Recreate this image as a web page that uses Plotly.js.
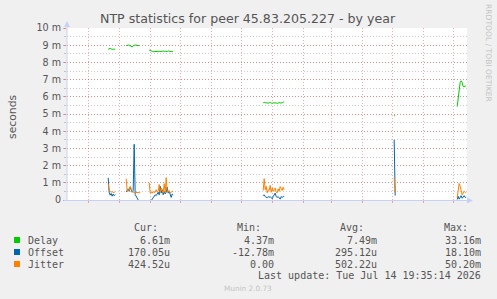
<!DOCTYPE html>
<html>
<head>
<meta charset="utf-8">
<script src="https://cdn.plot.ly/plotly-3.0.1.min.js"></script>
<style>html,body{margin:0;padding:0;background:#F0F0F0;}#chart{width:497px;height:299px;}</style>
</head>
<body>
<div id="chart"></div>
<script>
// ---- data (values in milliseconds; null = no data) ----
const dates = [
  "2025-07-21","2025-07-22","2025-07-23","2025-07-24","2025-07-25","2025-07-26","2025-07-27","2025-07-28",
  "2025-07-29",
  "2025-08-08","2025-08-09","2025-08-10","2025-08-11","2025-08-12","2025-08-13","2025-08-14","2025-08-15",
  "2025-08-16","2025-08-17","2025-08-18","2025-08-19","2025-08-20","2025-08-21","2025-08-22",
  "2025-08-23",
  "2025-08-31","2025-09-01","2025-09-02","2025-09-03","2025-09-04","2025-09-05","2025-09-06","2025-09-07",
  "2025-09-08","2025-09-09","2025-09-10","2025-09-11","2025-09-12","2025-09-13","2025-09-14","2025-09-15",
  "2025-09-16","2025-09-17","2025-09-18","2025-09-19","2025-09-20","2025-09-21","2025-09-22","2025-09-23",
  "2025-09-24",
  "2025-09-25",
  "2025-12-23","2025-12-24","2025-12-25","2025-12-26","2025-12-27","2025-12-28","2025-12-29","2025-12-30",
  "2025-12-31","2026-01-01","2026-01-02","2026-01-03","2026-01-04","2026-01-05","2026-01-06","2026-01-07",
  "2026-01-08","2026-01-09","2026-01-10","2026-01-11","2026-01-12","2026-01-13",
  "2026-01-14",
  "2026-05-03","2026-05-04",
  "2026-05-05",
  "2026-07-05","2026-07-06","2026-07-07","2026-07-08","2026-07-09","2026-07-10","2026-07-11","2026-07-12",
  "2026-07-13","2026-07-14"
];
const delay = [
  8.76,8.78,8.82,8.78,8.76,8.76,8.77,8.76,
  null,
  8.97,9.00,9.01,9.00,8.98,8.96,8.90,8.97,9.00,9.01,9.00,8.98,8.97,8.97,null,
  null,
  8.72,8.68,8.65,8.65,8.62,8.63,8.65,8.64,8.63,8.64,8.65,8.63,8.62,8.64,8.67,8.63,8.65,8.64,8.63,8.67,8.64,8.63,8.62,8.64,8.63,
  null,
  5.65,5.68,5.66,5.64,5.66,5.63,5.65,5.67,5.64,5.62,5.65,5.66,5.63,5.64,5.62,5.65,5.66,5.64,5.63,5.65,5.68,5.72,
  null,
  4.90,4.90,
  null,
  5.43,5.90,6.40,6.85,6.93,6.83,6.60,6.58,6.63,6.61
];
const offset = [
  1.29,0.45,0.28,0.38,0.22,0.35,0.25,0.32,
  null,
  0.46,0.55,0.65,0.50,0.75,0.60,0.45,0.55,3.24,0.32,0.20,0.05,-0.05,-0.10,null,
  null,
  -0.13,-0.10,-0.05,0.05,0.15,0.20,0.30,0.25,0.35,0.45,0.30,0.80,0.40,0.60,0.30,0.50,0.35,0.45,0.75,0.40,0.50,0.30,0.15,0.35,0.30,
  null,
  0.26,0.30,0.20,0.15,0.13,0.20,0.15,0.20,0.10,0.07,0.20,0.33,0.40,0.20,0.15,0.20,0.10,0.05,0.20,0.15,0.20,0.22,
  null,
  3.50,0.26,
  null,
  0.03,0.22,0.05,0.15,0.25,0.10,0.20,0.25,0.15,0.17
];
const jitter = [
  0.95,0.55,0.50,0.45,0.50,0.42,0.45,0.48,
  null,
  1.24,0.50,0.60,0.55,0.80,0.60,0.50,0.45,0.45,0.42,0.42,0.42,0.42,0.42,0.42,
  null,
  1.00,0.42,0.45,0.40,0.50,0.42,0.45,0.60,0.45,0.50,0.90,0.45,0.70,0.50,0.40,0.95,0.45,1.30,0.50,0.45,0.55,0.40,0.45,0.50,0.48,
  null,
  0.55,1.24,0.60,0.80,0.42,0.60,0.55,0.85,0.45,0.70,0.50,0.60,0.70,0.45,0.42,0.65,0.50,0.78,0.60,0.55,0.75,0.60,
  null,
  1.30,0.44,
  null,
  0.13,0.45,0.96,0.80,0.50,0.30,0.40,0.50,0.45,0.42
];

const seriesNames  = ["Delay","Offset","Jitter"];
const seriesColors = ["#00CC00","#0066B3","#FF8000"];
const curVals = ["6.61m","170.05u","424.52u"];
const minVals = ["4.37m","-12.78m","0.00"];
const avgVals = ["7.49m","295.12u","502.22u"];
const maxVals = ["33.16m","18.10m","50.20m"];
const legendHeads = ["Cur:","Min:","Avg:","Max:"];

const yTickVals  = [0,1,2,3,4,5,6,7,8,9,10];
const yTickText  = ["0","1 m","2 m","3 m","4 m","5 m","6 m","7 m","8 m","9 m","10 m"];
const monthStarts = ["2025-07-01","2025-08-01","2025-09-01","2025-10-01","2025-11-01","2025-12-01",
  "2026-01-01","2026-02-01","2026-03-01","2026-04-01","2026-05-01","2026-06-01","2026-07-01"];
const midMonths = ["2025-06-16","2025-07-16","2025-08-16","2025-09-16","2025-10-16","2025-11-16","2025-12-16",
  "2026-01-16","2026-02-15","2026-03-16","2026-04-16","2026-05-16","2026-06-16"];
const xLabelDates = ["2025-07-16","2025-10-16","2026-01-16","2026-04-16"];
const xLabelText  = ["July 2025","October 2025","January 2026","April 2026"];
const xRange = ["2025-06-09 19:35","2026-07-14 19:35"];

// ---- geometry helpers ----
const WID=497, HEI=299, ML=67, MR=30, MT=28, MB=99;
const PW = WID-ML-MR, PH = HEI-MT-MB;
const px = p => (p-ML)/PW;
const py = p => (HEI-MB-p)/PH;

const series = [delay, offset, jitter];
const traces = series.map((s,i)=>({
  type:"scatter", mode:"lines", x:dates, y:s, name:seriesNames[i],
  line:{color:seriesColors[i], width:1}, connectgaps:false, hoverinfo:"skip"
}));

const RED = "rgba(240,60,60,0.45)", GRAY = "rgba(128,128,128,0.40)", AXC = "#C8D0F6";
const DASH = "1px,2px";
const txt = "#555";

const annotations = [];
annotations.push({xref:"paper",yref:"paper",x:px(248),y:py(19),xanchor:"center",yanchor:"middle",
  text:"NTP statistics for peer 45.83.205.227 - by year",showarrow:false,
  font:{family:"DejaVu Sans",size:12.6,color:txt}});
annotations.push({xref:"paper",yref:"paper",x:px(12),y:py(116),xanchor:"center",yanchor:"middle",
  text:"seconds",textangle:-90,showarrow:false,font:{family:"DejaVu Sans",size:10.8,color:txt}});
annotations.push({xref:"paper",yref:"paper",x:px(489),y:py(53),xanchor:"center",yanchor:"middle",
  text:"RRDTOOL / TOBI OETIKER",textangle:90,showarrow:false,font:{family:"DejaVu Sans",size:7.6,color:"#C4C4C4"}});
annotations.push({xref:"paper",yref:"paper",x:px(248),y:py(288),xanchor:"center",yanchor:"middle",
  text:"Munin 2.0.73",showarrow:false,font:{family:"DejaVu Sans",size:7.3,color:"#C4C4C4"}});

const mono = {family:"DejaVu Sans Mono",size:10,color:txt};
const headRight = [160,263,366,470];
const valRight  = [172,276,379,483];
legendHeads.forEach((h,i)=>annotations.push({xref:"paper",yref:"paper",x:px(headRight[i]),y:py(227),
  xanchor:"right",yanchor:"middle",text:h,showarrow:false,font:mono}));
const rowsY = [240,252,264];
const shapes = [];
seriesNames.forEach((n,i)=>{
  annotations.push({xref:"paper",yref:"paper",x:px(26),y:py(rowsY[i]),xanchor:"left",yanchor:"middle",
    text:n,showarrow:false,font:mono});
  [curVals,minVals,avgVals,maxVals].forEach((arr,j)=>annotations.push({xref:"paper",yref:"paper",
    x:px(valRight[j]),y:py(rowsY[i]),xanchor:"right",yanchor:"middle",text:arr[i],showarrow:false,font:mono}));
  shapes.push({type:"rect",xref:"paper",yref:"paper",x0:px(14),x1:px(20),y0:py(rowsY[i]+3),y1:py(rowsY[i]-3),
    fillcolor:seriesColors[i],line:{width:0}});
});
annotations.push({xref:"paper",yref:"paper",x:px(483),y:py(275.5),xanchor:"right",yanchor:"middle",
  text:"Last update: Tue Jul 14 19:35:14 2026",showarrow:false,font:mono});

shapes.push({type:"line",xref:"paper",yref:"paper",x0:px(67),x1:px(67),y0:py(200.5),y1:py(24),line:{color:AXC,width:1}});
shapes.push({type:"path",xref:"paper",yref:"paper",
  path:`M ${px(64)} ${py(27)} L ${px(70)} ${py(27)} L ${px(67)} ${py(21)} Z`,fillcolor:AXC,line:{width:0}});
shapes.push({type:"line",xref:"paper",yref:"paper",x0:px(64),x1:px(470),y0:py(200.5),y1:py(200.5),line:{color:AXC,width:1}});
shapes.push({type:"path",xref:"paper",yref:"paper",
  path:`M ${px(467)} ${py(197.5)} L ${px(467)} ${py(203.5)} L ${px(473)} ${py(200.5)} Z`,fillcolor:AXC,line:{width:0}});

const layout = {
  width:WID,height:HEI,margin:{l:ML,r:MR,t:MT,b:MB},
  paper_bgcolor:"#F0F0F0",plot_bgcolor:"#FFFFFF",showlegend:false,
  xaxis:{type:"date",range:xRange,tickmode:"array",tickvals:monthStarts,showticklabels:false,
    showgrid:true,gridcolor:RED,griddash:DASH,gridwidth:1,ticks:"outside",ticklen:2,tickcolor:RED,
    zeroline:false,showline:false,fixedrange:true},
  xaxis3:{type:"date",range:xRange,overlaying:"x",anchor:"y",side:"bottom",tickmode:"array",
    tickvals:midMonths,showticklabels:false,showgrid:true,gridcolor:GRAY,griddash:DASH,gridwidth:1,
    ticks:"",zeroline:false,showline:false,fixedrange:true},
  xaxis2:{type:"date",range:xRange,overlaying:"x",anchor:"y",side:"bottom",tickmode:"array",
    tickvals:xLabelDates,ticktext:xLabelText,showgrid:false,ticks:"",zeroline:false,showline:false,
    tickfont:{family:"DejaVu Sans",size:9.6,color:txt},fixedrange:true},
  yaxis:{range:[0,10],tickmode:"array",tickvals:yTickVals,ticktext:yTickText,
    showgrid:true,gridcolor:RED,griddash:DASH,ticks:"outside",ticklen:3,tickcolor:RED,
    zeroline:false,showline:false,tickfont:{family:"DejaVu Sans",size:9.6,color:txt},fixedrange:true,
    minor:{dtick:0.5,showgrid:true,gridcolor:GRAY,griddash:DASH,ticks:"outside",ticklen:2,tickcolor:GRAY}},
  annotations:annotations,shapes:shapes
};
Plotly.newPlot("chart",traces,layout,{displayModeBar:false,staticPlot:true});
</script>
</body>
</html>
